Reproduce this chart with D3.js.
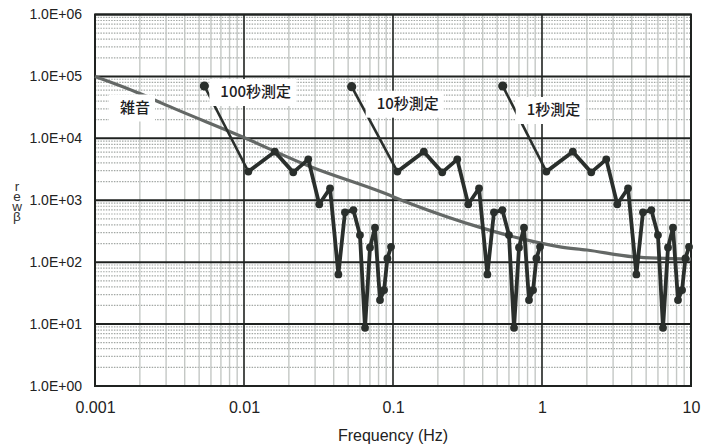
<!DOCTYPE html>
<html>
<head>
<meta charset="utf-8">
<script src="https://cdn.jsdelivr.net/npm/d3@7"></script>
<style>
  body { margin: 0; background: #fff; }
  svg { display: block; }
</style>
</head>
<body>
<svg id="chart" width="706" height="444"></svg>
<script>
// ---- data ----
const xTickValues = [0.001, 0.01, 0.1, 1, 10];
const xTickLabels = ["0.001", "0.01", "0.1", "1", "10"];
const yTickValues = [1, 10, 100, 1e3, 1e4, 1e5, 1e6];
const yTickLabels = ["1.0E+00", "1.0E+01", "1.0E+02", "1.0E+03", "1.0E+04", "1.0E+05", "1.0E+06"];
const yTitleText = "rewβ";

const seriesNames = ["100秒測定", "10秒測定", "1秒測定"];

const freq100s = [0.0107, 0.0161, 0.0214, 0.0270, 0.0320, 0.0378, 0.0430, 0.0476, 0.0542,
                  0.0600, 0.0649, 0.0701, 0.0757, 0.0818, 0.0871, 0.0917, 0.0970];
const power100s = [2900, 6080, 2820, 4580, 860, 1560, 63.5, 638, 695,
                   274, 8.7, 173, 360, 24.4, 35.4, 115, 177];

const freq10s = [0.107, 0.161, 0.214, 0.270, 0.320, 0.378, 0.430, 0.476, 0.542,
                 0.600, 0.649, 0.701, 0.757, 0.818, 0.871, 0.917, 0.970];
const power10s = [2900, 6080, 2820, 4580, 860, 1560, 63.5, 638, 695,
                  274, 8.7, 173, 360, 24.4, 35.4, 115, 177];

const freq1s = [1.07, 1.61, 2.14, 2.70, 3.20, 3.78, 4.30, 4.76, 5.42,
                6.00, 6.49, 7.01, 7.57, 8.18, 8.71, 9.17, 9.70];
const power1s = [2900, 6080, 2820, 4580, 860, 1560, 63.5, 638, 695,
                 274, 8.7, 173, 360, 24.4, 35.4, 115, 177];

const noiseName = "雑音";
const noiseFreq = [0.001, 0.002, 0.0028, 0.0099, 0.0277, 0.082, 0.13, 0.384, 0.712, 1.32, 2.0, 4.1, 10];
const noisePower = [100000, 53000, 37000, 10400, 3500, 1380, 890, 365, 242, 177, 157, 122, 112];

// callout anchors (frequency, power) for the series name tags
const calloutFreq = [0.00542, 0.0528, 0.545];
const calloutPower = [70000, 68200, 70000];

// ---- layout ----
const W = 706, H = 444;
const plot = { left: 95, right: 691, top: 14.5, bottom: 386 };
const tagOffset = [[16, 6], [25, 17], [24, 24]];   // text start relative to callout dot
const noiseTag = { x: 120, y: 107.5 };

const lineColor = "#2a2f2c";
const noiseColor = "#646866";
const cjkFont = "'Noto Sans CJK JP', 'Noto Sans', sans-serif";
const latinFont = "'Liberation Sans', Arial, sans-serif";

const svg = d3.select("#chart");
svg.append("rect").attr("width", W).attr("height", H).attr("fill", "#fff");

const x = d3.scaleLog().domain([0.001, 10]).range([plot.left, plot.right]);
const y = d3.scaleLog().domain([1, 1e6]).range([plot.bottom, plot.top]);

// ---- grid ----
const grid = svg.append("g");
const minorX = [], minorY = [];
for (let d = 0.001; d < 9.9; d *= 10) for (let k = 2; k <= 9; k++) minorX.push(d * k);
for (let d = 1; d < 9e5; d *= 10) for (let k = 2; k <= 9; k++) minorY.push(d * k);

grid.selectAll(".minor-y").data(minorY).join("line")
  .attr("x1", plot.left).attr("x2", plot.right)
  .attr("y1", d => y(d)).attr("y2", d => y(d))
  .attr("stroke", "#a3a8a5").attr("stroke-width", 1.2)
  .attr("stroke-dasharray", "1.5,1.2");

grid.selectAll(".minor-x").data(minorX).join("line")
  .attr("x1", d => x(d)).attr("x2", d => x(d))
  .attr("y1", plot.top).attr("y2", plot.bottom)
  .attr("stroke", "#c4c8c5").attr("stroke-width", 1.4);

grid.selectAll(".major-y").data(yTickValues).join("line")
  .attr("x1", plot.left).attr("x2", plot.right)
  .attr("y1", d => y(d)).attr("y2", d => y(d))
  .attr("stroke", "#1f2220").attr("stroke-width", 2);

grid.selectAll(".major-x").data(xTickValues).join("line")
  .attr("x1", d => x(d)).attr("x2", d => x(d))
  .attr("y1", plot.top).attr("y2", plot.bottom)
  .attr("stroke", "#1f2220").attr("stroke-width", 1.6);

svg.append("rect")
  .attr("x", plot.left).attr("y", plot.top)
  .attr("width", plot.right - plot.left).attr("height", plot.bottom - plot.top)
  .attr("fill", "none").attr("stroke", "#1f2220").attr("stroke-width", 2);

// ---- axes ----
const xAxis = d3.axisBottom(x).tickValues(xTickValues)
  .tickFormat((d, i) => xTickLabels[i]).tickSize(0).tickPadding(16);
svg.append("g").attr("transform", `translate(0,${plot.bottom})`).call(xAxis)
  .call(g => g.select(".domain").remove())
  .selectAll("text").attr("font-family", latinFont).attr("font-size", 16).attr("fill", "#222");

const yAxis = d3.axisLeft(y).tickValues(yTickValues)
  .tickFormat((d, i) => yTickLabels[i]).tickSize(0).tickPadding(13);
svg.append("g").attr("transform", `translate(${plot.left},0)`).call(yAxis)
  .call(g => g.select(".domain").remove())
  .selectAll("text").attr("font-family", latinFont).attr("font-size", 14).attr("fill", "#222");

svg.append("text")
  .attr("x", (plot.left + plot.right) / 2).attr("y", 441)
  .attr("text-anchor", "middle")
  .attr("font-family", latinFont).attr("font-size", 16).attr("fill", "#222")
  .text("Frequency (Hz)");

// vertical axis title, letters stacked upright
svg.append("text")
  .attr("x", 17).attr("y", 179)
  .style("writing-mode", "vertical-rl")
  .style("text-orientation", "upright")
  .style("letter-spacing", "-5px")
  .attr("font-family", latinFont).attr("font-size", 13.5).attr("fill", "#333")
  .text(yTitleText);

// ---- noise curve ----
const noisePts = noiseFreq.map((f, i) => [x(f), y(noisePower[i])]);
svg.append("path")
  .attr("d", d3.line().curve(d3.curveMonotoneX)(noisePts))
  .attr("fill", "none").attr("stroke", noiseColor).attr("stroke-width", 3.2);

// ---- measurement series ----
const series = [
  { name: seriesNames[0], f: freq100s, p: power100s },
  { name: seriesNames[1], f: freq10s, p: power10s },
  { name: seriesNames[2], f: freq1s, p: power1s }
];
const line = d3.line().x(d => x(d[0])).y(d => y(d[1]));

series.forEach((s, si) => {
  const pts = s.f.map((f, i) => [f, s.p[i]]);
  const g = svg.append("g");
  g.append("path").attr("d", line(pts))
    .attr("fill", "none").attr("stroke", lineColor)
    .attr("stroke-width", 3.8).attr("stroke-linejoin", "round");
  g.selectAll("circle").data(pts).join("circle")
    .attr("cx", d => x(d[0])).attr("cy", d => y(d[1])).attr("r", 3.9)
    .attr("fill", lineColor);

  // callout leader from the tag dot to the first point
  const cx = x(calloutFreq[si]), cy = y(calloutPower[si]);
  g.append("line")
    .attr("x1", cx).attr("y1", cy).attr("x2", x(pts[0][0])).attr("y2", y(pts[0][1]))
    .attr("stroke", lineColor).attr("stroke-width", 2.6);
  g.append("circle").attr("cx", cx).attr("cy", cy).attr("r", 4.6).attr("fill", lineColor);
});

// ---- name tags with white backing ----
function tag(text, tx, ty) {
  const g = svg.append("g");
  const t = g.append("text")
    .attr("x", tx).attr("y", ty).attr("dy", "0.35em")
    .attr("font-family", cjkFont).attr("font-size", 15).attr("font-weight", 500)
    .attr("fill", "#1e211f").text(text);
  const bb = t.node().getBBox();
  g.insert("rect", "text")
    .attr("x", bb.x - 11).attr("y", ty - 13)
    .attr("width", bb.width + 16).attr("height", 27)
    .attr("fill", "#fff");
}

series.forEach((s, si) => {
  const cx = x(calloutFreq[si]), cy = y(calloutPower[si]);
  tag(s.name, cx + tagOffset[si][0], cy + tagOffset[si][1]);
});
tag(noiseName, noiseTag.x, noiseTag.y);
</script>
</body>
</html>
